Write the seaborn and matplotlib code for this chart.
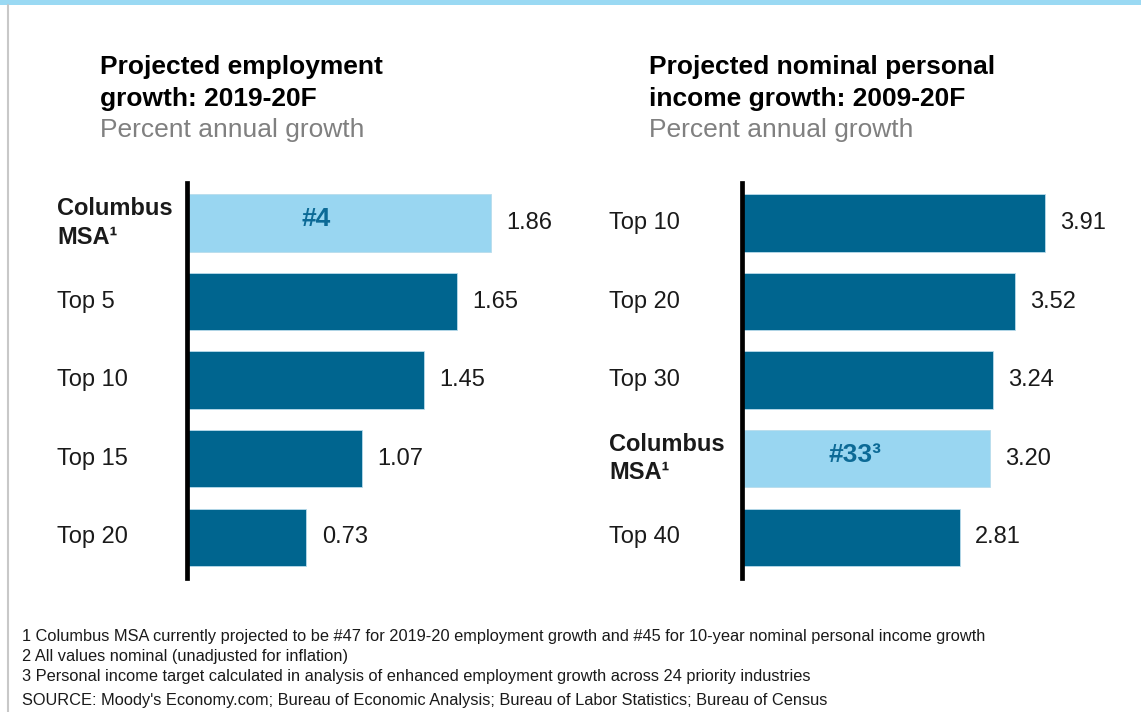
import matplotlib
matplotlib.use("Agg")
import matplotlib.pyplot as plt
import matplotlib.transforms as mtransforms
from matplotlib.lines import Line2D
from matplotlib.patches import Rectangle
import seaborn as sns
import pandas as pd

# ---- data ----
emp_categories = ["Columbus\nMSA¹", "Top 5", "Top 10", "Top 15", "Top 20"]
emp_values = [1.86, 1.65, 1.45, 1.07, 0.73]
emp_highlight = [True, False, False, False, False]
emp_rank_label = "#4"

inc_categories = ["Top 10", "Top 20", "Top 30", "Columbus\nMSA¹", "Top 40"]
inc_values = [3.91, 3.52, 3.24, 3.20, 2.81]
inc_highlight = [False, False, False, True, False]
inc_rank_label = "#33³"

title_left = "Projected employment\ngrowth: 2019-20F"
title_right = "Projected nominal personal\nincome growth: 2009-20F"
subtitle = "Percent annual growth"

footnotes = [
    "1 Columbus MSA currently projected to be #47 for 2019-20 employment growth and #45 for 10-year nominal personal income growth",
    "2 All values nominal (unadjusted for inflation)",
    "3 Personal income target calculated in analysis of enhanced employment growth across 24 priority industries",
    "SOURCE: Moody's Economy.com; Bureau of Economic Analysis; Bureau of Labor Statistics; Bureau of Census",
]

# ---- style ----
sns.set_theme(style="white")
plt.rcParams["font.family"] = ["Liberation Sans", "DejaVu Sans"]

DARK = "#00658F"
LIGHT = "#99D6F1"
RANK_COLOR = "#0C6A96"
TEXT = "#1a1a1a"
GREY = "#808080"

W, H = 1141, 712
fig = plt.figure(figsize=(W / 100, H / 100), dpi=100)
fig.patch.set_facecolor("white")


def fx(px):
    return px / W


def fy(py):
    return 1 - py / H


def draw_panel(left_px, width_px, xmax, cats, vals, hl, rank_label, rank_frac,
               label_px, title, title_px):
    ax = fig.add_axes([fx(left_px), fy(578), width_px / W, 395 / H])
    df = pd.DataFrame({"cat": cats, "val": vals,
                       "grp": ["hl" if h else "base" for h in hl]})
    sns.barplot(data=df, x="val", y="cat", hue="grp", orient="h",
                palette={"hl": LIGHT, "base": DARK}, width=0.73, dodge=False,
                legend=False, ax=ax, edgecolor="#b9dcec", linewidth=0.6,
                saturation=1)
    ax.set_xlim(0, xmax)
    ax.set_ylim(4.52, -0.51)
    ax.set_xlabel("")
    ax.set_ylabel("")
    ax.set_xticks([])
    ax.set_yticks([])
    for s in ["top", "right", "bottom"]:
        ax.spines[s].set_visible(False)
    ax.spines["left"].set_color("black")
    ax.spines["left"].set_linewidth(3.4)
    ax.patch.set_alpha(0)

    trans = mtransforms.blended_transform_factory(fig.transFigure, ax.transData)
    for i, (c, v, h) in enumerate(zip(cats, vals, hl)):
        ax.annotate(f"{v:.2f}", xy=(v, i), xytext=(11, 0),
                    textcoords="offset points", va="center", ha="left",
                    fontsize=17, color=TEXT)
        ax.text(fx(label_px), i, c, transform=trans, ha="left", va="center",
                fontsize=17, color=TEXT,
                fontweight="bold" if h else "normal", linespacing=1.3)
        if h:
            ax.text(v * rank_frac, i - 0.05, rank_label, ha="center",
                    va="center", fontsize=19, fontweight="bold",
                    color=RANK_COLOR)

    fig.text(fx(title_px), fy(83), title, ha="left", va="center",
             fontsize=19, fontweight="bold", color="black", linespacing=1.42)
    fig.text(fx(title_px), fy(130), subtitle, ha="left", va="center",
             fontsize=19, color=GREY)
    return ax


draw_panel(187, 393, 393 / 163.5, emp_categories, emp_values, emp_highlight,
           emp_rank_label, 0.425, 57, title_left, 100)
draw_panel(742, 388, 388 / 77.5, inc_categories, inc_values, inc_highlight,
           inc_rank_label, 0.455, 609, title_right, 649)

# footnotes
for txt, ypx in zip(footnotes, [636, 657, 677, 701]):
    fig.text(fx(22), fy(ypx), txt, ha="left", va="center", fontsize=11.75,
             color=TEXT)

# frame decorations
fig.add_artist(Rectangle((0, fy(5)), 1, 5 / H, transform=fig.transFigure,
                         facecolor="#9AD9F3", edgecolor="none"))
fig.add_artist(Line2D([fx(8), fx(8)], [0, fy(5)], transform=fig.transFigure,
                      color="#c8c8c8", linewidth=1.5))

fig.savefig("out.png", dpi=100)
